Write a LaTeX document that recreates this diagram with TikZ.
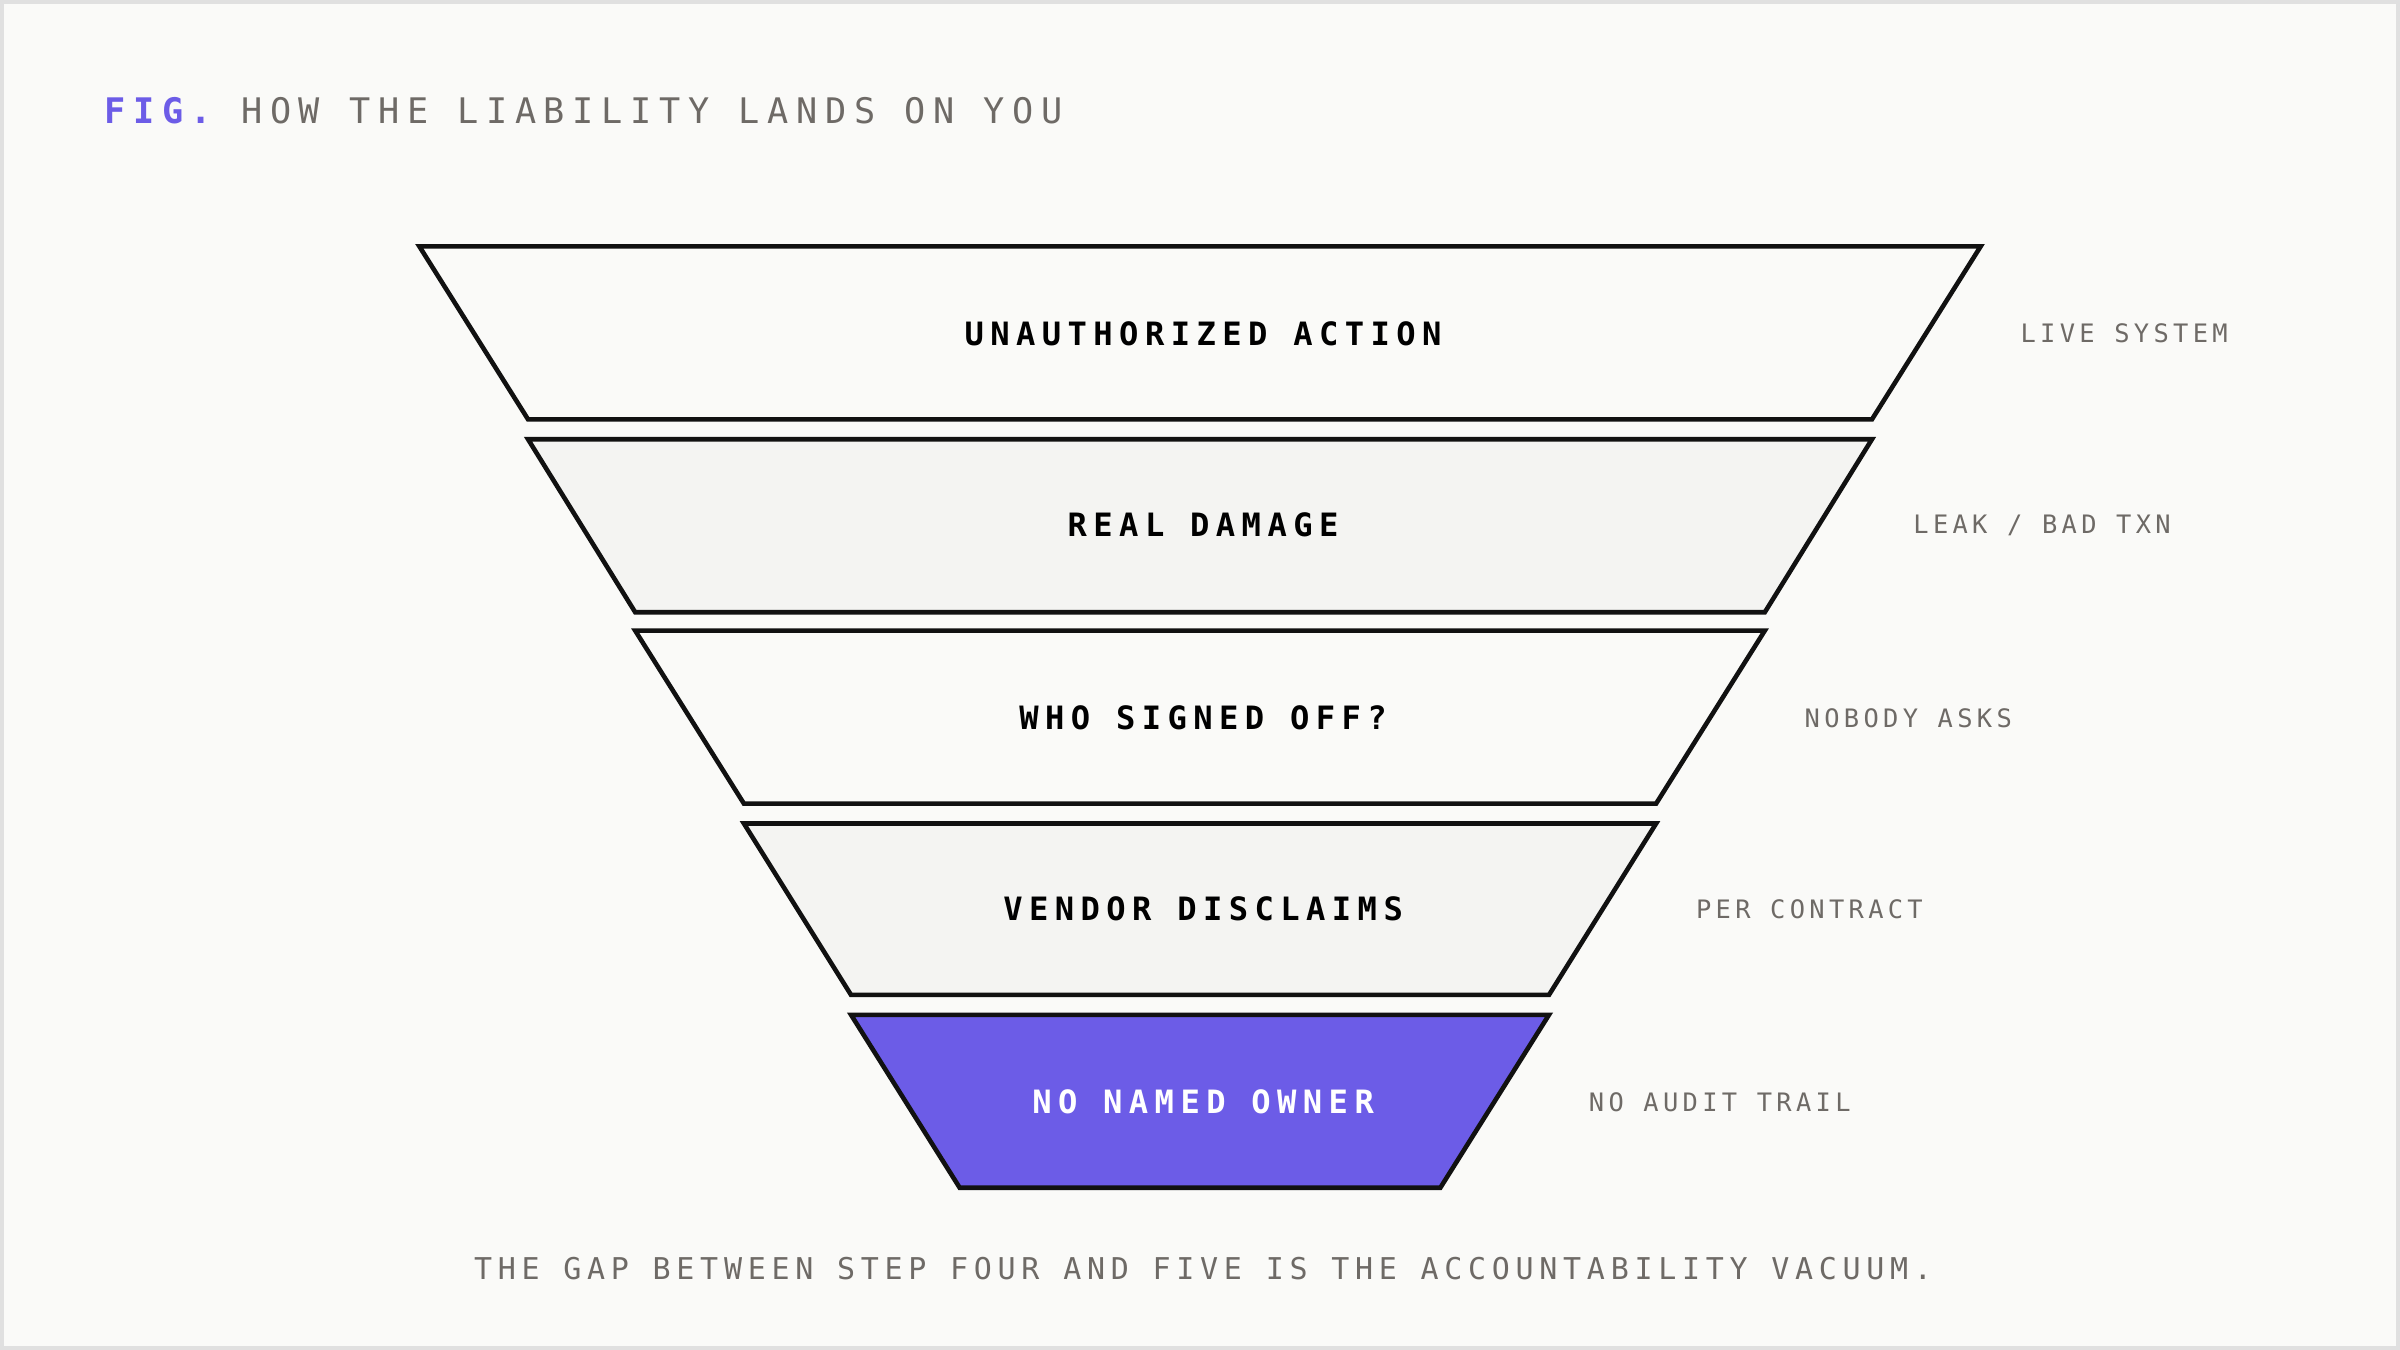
\documentclass[tikz,border=0pt]{standalone}
\usepackage{fontspec}
\setmonofont{DejaVu Sans Mono}
\definecolor{bg}{HTML}{FAFAF8}
\definecolor{bgalt}{HTML}{F4F4F2}
\definecolor{pur}{HTML}{6C5CE7}
\definecolor{gry}{HTML}{6E6A66}
\definecolor{edge}{HTML}{111111}
\begin{document}
\begin{tikzpicture}[x=0.5pt,y=-0.5pt,
  seg/.style={draw=edge,line width=1.5pt,line join=miter},
  lab/.style={font=\ttfamily\bfseries\fontsize{10.5}{12}\selectfont\addfontfeatures{LetterSpace=20},text=black},
  side/.style={anchor=west,font=\ttfamily\fontsize{8.3}{10}\selectfont\addfontfeatures{LetterSpace=17},text=gry}]
\useasboundingbox (0,0) rectangle (1568,882);
\fill[bg] (0,0) rectangle (1568,882);
\draw[line width=1.5pt,draw=black!12] (1,1) rectangle (1567,881);
\node[anchor=west,font=\ttfamily\fontsize{11.5}{13}\selectfont\addfontfeatures{LetterSpace=22}] (title) at (61,72) {\textcolor{pur}{\bfseries FIG.} \textcolor{gry}{HOW THE LIABILITY LANDS ON YOU}};
\draw[seg,fill=bg]    (274,161) -- (1294,161) -- (1223,274) -- (345,274) -- cycle;
\draw[seg,fill=bgalt] (345,287) -- (1223,287) -- (1153,400) -- (415,400) -- cycle;
\draw[seg,fill=bg]    (415,412) -- (1153,412) -- (1082,525) -- (486,525) -- cycle;
\draw[seg,fill=bgalt] (486,538) -- (1082,538) -- (1012,650) -- (556,650) -- cycle;
\draw[seg,fill=pur]   (556,663) -- (1012,663) -- (941,776) -- (627,776) -- cycle;
\node[lab] (l1) at (786,218) {UNAUTHORIZED ACTION};
\node[lab] (l2) at (786,343) {REAL DAMAGE};
\node[lab] (l3) at (786,469) {WHO SIGNED OFF?};
\node[lab] (l4) at (786,594) {VENDOR DISCLAIMS};
\node[lab,text=white] (l5) at (786,720) {NO NAMED OWNER};
\node[side] (s1) at (1313,218) {LIVE SYSTEM};
\node[side] (s2) at (1243,343) {LEAK / BAD TXN};
\node[side] (s3) at (1172,469) {NOBODY ASKS};
\node[side] (s4) at (1101,594) {PER CONTRACT};
\node[side] (s5) at (1031,720) {NO AUDIT TRAIL};
\node[font=\ttfamily\fontsize{9.8}{12}\selectfont\addfontfeatures{LetterSpace=19},text=gry] (foot) at (786,829) {THE GAP BETWEEN STEP FOUR AND FIVE IS THE ACCOUNTABILITY VACUUM.};
\end{tikzpicture}
\end{document}
